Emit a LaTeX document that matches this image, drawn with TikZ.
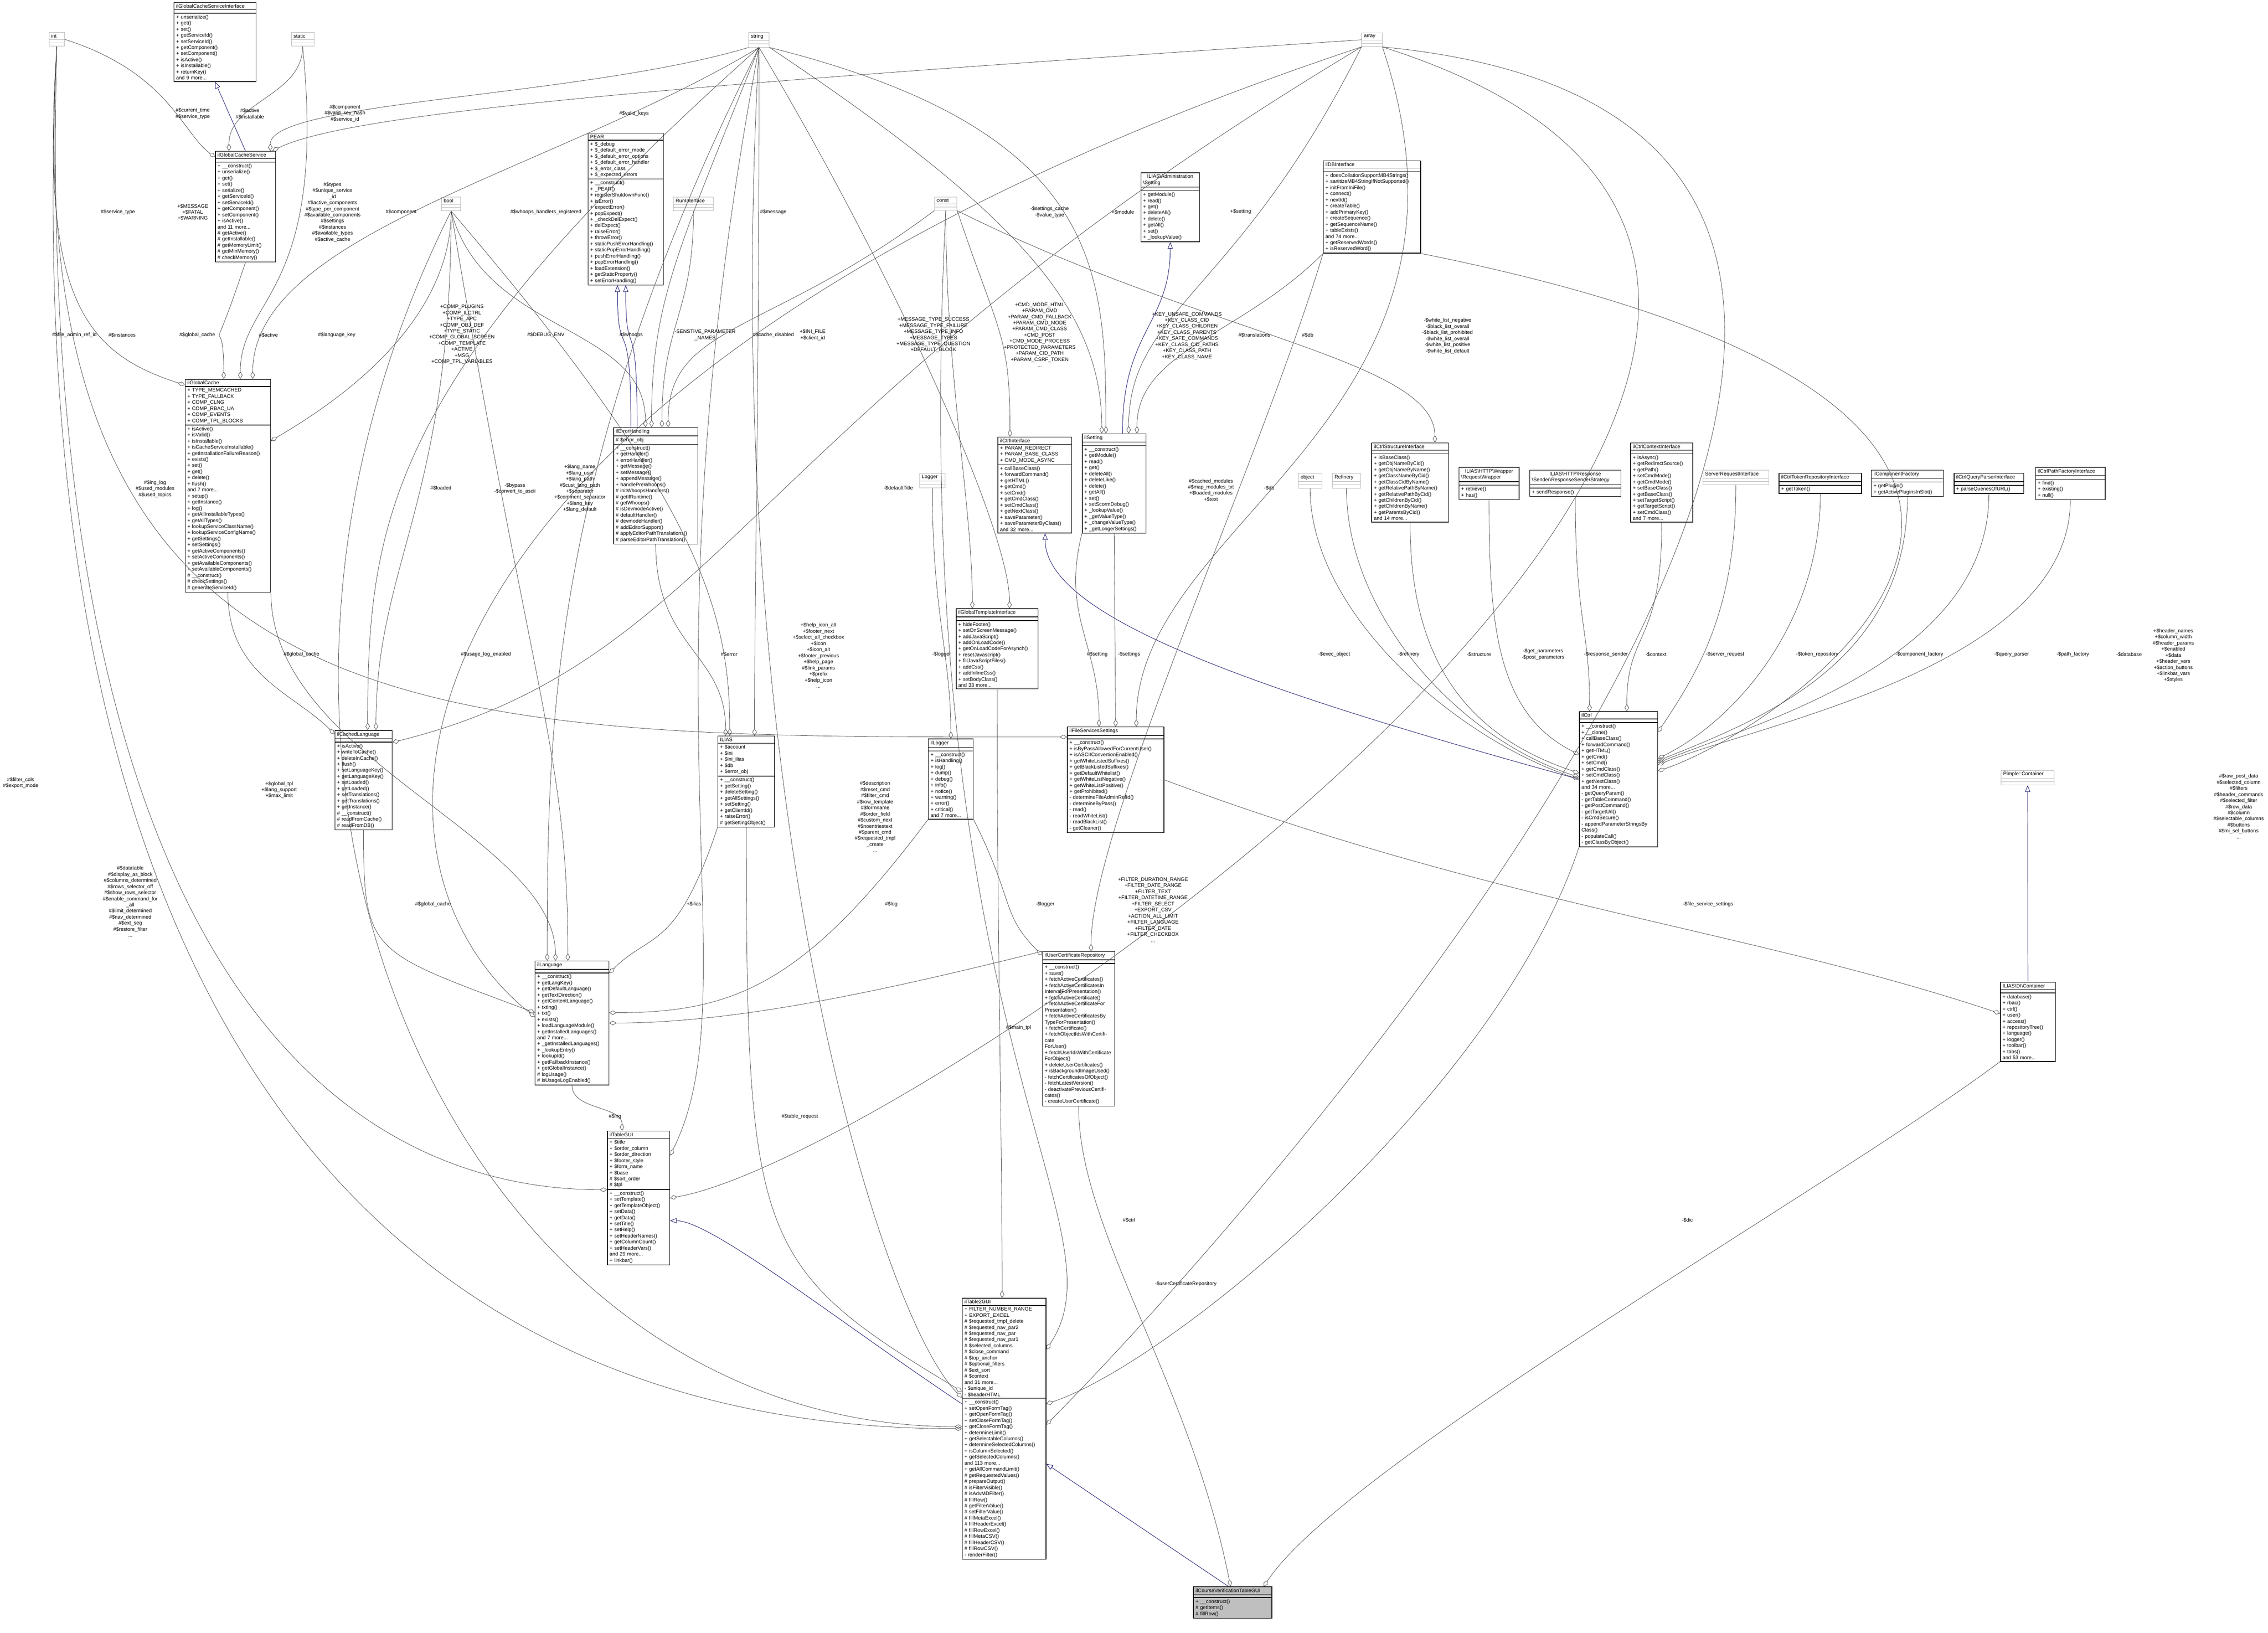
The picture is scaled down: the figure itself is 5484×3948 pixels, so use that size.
\documentclass[tikz,border=0pt]{standalone}
\usepackage{fontspec}
\setmainfont{Liberation Sans}
\usepackage{tikz}
\usetikzlibrary{shapes.multipart, arrows.meta, positioning}

\definecolor{inhblue}{RGB}{25,25,112}
\newcommand{\dgfont}{\fontsize{7}{8.4}\selectfont}

\begin{document}
\begin{tikzpicture}[
        x=0.02cm, y=-0.02cm,
        cls/.style = {
            rectangle split,
            rectangle split parts=3,
            rectangle split empty part height=0.3cm,
            draw, line width=0.9pt,
            anchor=north west,
            inner xsep=3pt, inner ysep=2pt,
            align=left,
            font=\dgfont
        },
        typ/.style = {
            cls,
            draw=gray!55, line width=0.6pt
        },
        lbl/.style = {
            font=\dgfont,
            align=center,
            inner sep=0pt
        },
        agg/.style = {
            draw=black!75, line width=0.5pt,
            -{Diamond[open,length=10pt,width=6pt]}
        },
        inh/.style = {
            draw=inhblue, line width=0.6pt,
            -{Triangle[open,length=9pt,width=7pt]}
        }
    ]
    \useasboundingbox (0,0) rectangle (5484,3948);

    % plain types
    \node [typ, text width=0.54cm] (int)      at (118,78)   {\centering int\nodepart{two}\nodepart{three}};
    \node [typ, text width=0.88cm] (static)   at (704,78)   {\centering static\nodepart{two}\nodepart{three}};
    \node [typ, text width=0.72cm] (bool)     at (1067,476) {\centering bool\nodepart{two}\nodepart{three}};
    \node [typ, text width=0.78cm] (string)   at (1810,78)  {\centering string\nodepart{two}\nodepart{three}};
    \node [typ, text width=0.78cm] (array)    at (3292,79)  {\centering array\nodepart{two}\nodepart{three}};
    \node [typ, text width=1.72cm] (runif)    at (1628,476) {\centering RunInterface\nodepart{two}\nodepart{three}};
    \node [typ, text width=0.88cm] (const)    at (2259,476) {\centering const\nodepart{two}\nodepart{three}};
    \node [typ, text width=1.02cm] (logger)   at (2223,1144) {\centering Logger\nodepart{two}\nodepart{three}};
    \node [typ, text width=0.92cm] (object)   at (3139,1144) {\centering object\nodepart{two}\nodepart{three}};
    \node [typ, text width=1.16cm] (refinery) at (3221,1144) {\centering Refinery\nodepart{two}\nodepart{three}};
    \node [typ, text width=2.98cm] (srvreq)   at (4117,1136) {\centering ServerRequestInterface\nodepart{two}\nodepart{three}};
    \node [typ, text width=2.36cm] (pimple)   at (4838,1862) {\centering Pimple::Container\nodepart{two}\nodepart{three}};

    % classes
    \node [cls, text width=3.76cm] (gcsi) at (420,5) {\centering ilGlobalCacheServiceInterface\nodepart{two}\nodepart{three}
        + unserialize()\\+ get()\\+ set()\\+ getServiceId()\\+ setServiceId()\\+ getComponent()\\+ setComponent()\\+ isActive()\\+ isInstallable()\\+ returnKey()\\and 9 more...};
    \node [cls, text width=2.70cm] (gcs) at (520,365) {\centering ilGlobalCacheService\nodepart{two}\nodepart{three}
        + \_\_construct()\\+ unserialize()\\+ get()\\+ set()\\+ serialize()\\+ getServiceId()\\+ setServiceId()\\+ getComponent()\\+ setComponent()\\+ isActive()\\and 11 more...\\\# getActive()\\\# getInstallable()\\\# getMemoryLimit()\\\# getMinMemory()\\\# checkMemory()};
    \node [cls, text width=3.92cm] (gcache) at (447,916) {\centering ilGlobalCache\nodepart{two}
        + TYPE\_MEMCACHED\\+ TYPE\_FALLBACK\\+ COMP\_CLNG\\+ COMP\_RBAC\_UA\\+ COMP\_EVENTS\\+ COMP\_TPL\_BLOCKS\nodepart{three}
        + isActive()\\+ isValid()\\+ isInstallable()\\+ isCacheServiceInstallable()\\+ getInstallationFailureReason()\\+ exists()\\+ set()\\+ get()\\+ delete()\\+ flush()\\and 7 more...\\+ setup()\\+ getInstance()\\+ log()\\+ getAllInstallableTypes()\\+ getAllTypes()\\+ lookupServiceClassName()\\+ lookupServiceConfigName()\\+ getSettings()\\+ setSettings()\\+ getActiveComponents()\\+ setActiveComponents()\\+ getAvailableComponents()\\+ setAvailableComponents()\\\# \_\_construct()\\\# checkSettings()\\\# generateServiceId()};
    \node [cls, text width=3.44cm] (pear) at (1421,321) {\centering PEAR\nodepart{two}
        + \$\_debug\\+ \$\_default\_error\_mode\\+ \$\_default\_error\_options\\+ \$\_default\_error\_handler\\+ \$\_error\_class\\+ \$\_expected\_errors\nodepart{three}
        + \_\_construct()\\+ \_PEAR()\\+ registerShutdownFunc()\\+ isError()\\+ expectError()\\+ popExpect()\\+ \_checkDelExpect()\\+ delExpect()\\+ raiseError()\\+ throwError()\\+ staticPushErrorHandling()\\+ staticPopErrorHandling()\\+ pushErrorHandling()\\+ popErrorHandling()\\+ loadExtension()\\+ getStaticProperty()\\+ setErrorHandling()};
    \node [cls, text width=3.86cm] (errh) at (1483,1033) {\centering ilErrorHandling\nodepart{two}
        \# \$error\_obj\nodepart{three}
        + \_\_construct()\\+ getHandler()\\+ errorHandler()\\+ getMessage()\\+ setMessage()\\+ appendMessage()\\+ handlePreWhoops()\\\# initWhoopsHandlers()\\\# getIlRuntime()\\\# getWhoops()\\\# isDevmodeActive()\\\# defaultHandler()\\\# devmodeHandler()\\\# addEditorSupport()\\\# applyEditorPathTranslations()\\\# parseEditorPathTranslation()};
    \node [cls, text width=2.62cm] (admset) at (2758,417) {\centering ILIAS\textbackslash Administration\\\textbackslash Setting\nodepart{two}\nodepart{three}
        + getModule()\\+ read()\\+ get()\\+ deleteAll()\\+ delete()\\+ getAll()\\+ set()\\+ \_lookupValue()};
    \node [cls, text width=4.50cm] (dbif) at (3199,388) {\centering ilDBInterface\nodepart{two}\nodepart{three}
        + doesCollationSupportMB4Strings()\\+ sanitizeMB4StringIfNotSupported()\\+ initFromIniFile()\\+ connect()\\+ nextId()\\+ createTable()\\+ addPrimaryKey()\\+ createSequence()\\+ getSequenceName()\\+ tableExists()\\and 74 more...\\+ getReservedWords()\\+ isReservedWord()};
    \node [cls, text width=3.36cm] (ctrlif) at (2412,1056) {\centering ilCtrlInterface\nodepart{two}
        + PARAM\_REDIRECT\\+ PARAM\_BASE\_CLASS\\+ CMD\_MODE\_ASYNC\nodepart{three}
        + callBaseClass()\\+ forwardCommand()\\+ getHTML()\\+ getCmd()\\+ setCmd()\\+ getCmdClass()\\+ setCmdClass()\\+ getNextClass()\\+ saveParameter()\\+ saveParameterByClass()\\and 32 more...};
    \node [cls, text width=2.88cm] (setting) at (2616,1048) {\centering ilSetting\nodepart{two}\nodepart{three}
        + \_\_construct()\\+ getModule()\\+ read()\\+ get()\\+ deleteAll()\\+ deleteLike()\\+ delete()\\+ getAll()\\+ set()\\+ setScormDebug()\\+ \_lookupValue()\\+ \_getValueType()\\+ \_changeValueType()\\+ \_getLongerSettings()};
    \node [cls, text width=3.50cm] (ctrlstruct) at (3316,1070) {\centering ilCtrlStructureInterface\nodepart{two}\nodepart{three}
        + isBaseClass()\\+ getObjNameByCid()\\+ getObjNameByName()\\+ getClassNameByCid()\\+ getClassCidByName()\\+ getRelativePathByName()\\+ getRelativePathByCid()\\+ getChildrenByCid()\\+ getChildrenByName()\\+ getParentsByCid()\\and 14 more...};
    \node [cls, text width=2.70cm] (reqwrap) at (3527,1129) {\centering ILIAS\textbackslash HTTP\textbackslash Wrapper\\\textbackslash RequestWrapper\nodepart{two}\nodepart{three}
        + retrieve()\\+ has()};
    \node [cls, text width=4.20cm] (respsend) at (3698,1136) {\centering ILIAS\textbackslash HTTP\textbackslash Response\\\textbackslash Sender\textbackslash ResponseSenderStrategy\nodepart{two}\nodepart{three}
        + sendResponse()};
    \node [cls, text width=2.80cm] (ctrlctx) at (3942,1070) {\centering ilCtrlContextInterface\nodepart{two}\nodepart{three}
        + isAsync()\\+ getRedirectSource()\\+ getPath()\\+ setCmdMode()\\+ getCmdMode()\\+ setBaseClass()\\+ getBaseClass()\\+ setTargetScript()\\+ getTargetScript()\\+ setCmdClass()\\and 7 more...};
    \node [cls, text width=3.78cm] (tokenrepo) at (4301,1144) {\centering ilCtrlTokenRepositoryInterface\nodepart{two}\nodepart{three}
        + getToken()};
    \node [cls, text width=3.28cm] (compfac) at (4524,1136) {\centering ilComponentFactory\nodepart{two}\nodepart{three}
        + getPlugin()\\+ getActivePluginsInSlot()};
    \node [cls, text width=3.16cm] (queryparser) at (4724,1144) {\centering ilCtrlQueryParserInterface\nodepart{two}\nodepart{three}
        + parseQueriesOfURL()};
    \node [cls, text width=3.16cm] (pathfac) at (4921,1129) {\centering ilCtrlPathFactoryInterface\nodepart{two}\nodepart{three}
        + find()\\+ existing()\\+ null()};
    \node [cls, text width=3.58cm] (ctrl) at (3818,1720) {\centering ilCtrl\nodepart{two}\nodepart{three}
        + \_\_construct()\\+ \_\_clone()\\+ callBaseClass()\\+ forwardCommand()\\+ getHTML()\\+ getCmd()\\+ setCmd()\\+ getCmdClass()\\+ setCmdClass()\\+ getNextClass()\\and 34 more...\\- getQueryParam()\\- getTableCommand()\\- getPostCommand()\\- getTargetUrl()\\- isCmdSecure()\\- appendParameterStringsBy\\Class()\\- populateCall()\\- getClassByObject()};
    \node [cls, text width=2.46cm] (dic) at (4836,2374) {\centering ILIAS\textbackslash DI\textbackslash Container\nodepart{two}\nodepart{three}
        + database()\\+ rbac()\\+ ctrl()\\+ user()\\+ access()\\+ repositoryTree()\\+ language()\\+ logger()\\+ toolbar()\\+ tabs()\\and 53 more...};
    \node [cls, text width=3.76cm] (tplif) at (2311,1471) {\centering ilGlobalTemplateInterface\nodepart{two}\nodepart{three}
        + hideFooter()\\+ setOnScreenMessage()\\+ addJavaScript()\\+ addOnLoadCode()\\+ getOnLoadCodeForAsynch()\\+ resetJavascript()\\+ fillJavaScriptFiles()\\+ addCss()\\+ addInlineCss()\\+ setBodyClass()\\and 33 more...};
    \node [cls, text width=2.54cm] (ilias) at (1735,1779) {\centering ILIAS\nodepart{two}
        + \$account\\+ \$ini\\+ \$ini\_ilias\\+ \$db\\+ \$error\_obj\nodepart{three}
        + \_\_construct()\\+ getSetting()\\+ deleteSetting()\\+ getAllSettings()\\+ setSetting()\\+ getClientId()\\+ raiseError()\\\# getSettingObject()};
    \node [cls, text width=1.96cm] (illogger) at (2244,1786) {\centering ilLogger\nodepart{two}\nodepart{three}
        + \_\_construct()\\+ isHandling()\\+ log()\\+ dump()\\+ debug()\\+ info()\\+ notice()\\+ warning()\\+ error()\\+ critical()\\and 7 more...};
    \node [cls, text width=4.46cm] (filesrv) at (2580,1757) {\centering ilFileServicesSettings\nodepart{two}\nodepart{three}
        + \_\_construct()\\+ isByPassAllowedForCurrentUser()\\+ isASCIIConvertionEnabled()\\+ getWhiteListedSuffixes()\\+ getBlackListedSuffixes()\\+ getDefaultWhitelist()\\+ getWhiteListNegative()\\+ getWhiteListPositive()\\+ getProhibited()\\- determineFileAdminRefId()\\- determineByPass()\\- read()\\- readWhiteList()\\- readBlackList()\\- getCleaner()};
    \node [cls, text width=2.56cm] (cachedlng) at (809,1765) {\centering ilCachedLanguage\nodepart{two}\nodepart{three}
        + isActive()\\+ writeToCache()\\+ deleteInCache()\\+ flush()\\+ setLanguageKey()\\+ getLanguageKey()\\+ setLoaded()\\+ getLoaded()\\+ setTranslations()\\+ getTranslations()\\+ getInstance()\\\# \_\_construct()\\\# readFromCache()\\\# readFromDB()};
    \node [cls, text width=3.36cm] (lng) at (1293,2323) {\centering ilLanguage\nodepart{two}\nodepart{three}
        + \_\_construct()\\+ getLangKey()\\+ getDefaultLanguage()\\+ getTextDirection()\\+ getContentLanguage()\\+ txtlng()\\+ txt()\\+ exists()\\+ loadLanguageModule()\\+ getInstalledLanguages()\\and 7 more...\\+ \_getInstalledLanguages()\\+ \_lookupEntry()\\+ lookupId()\\+ getFallbackInstance()\\+ getGlobalInstance()\\\# logUsage()\\\# isUsageLogEnabled()};
    \node [cls, text width=2.80cm] (tablegui) at (1468,2734) {\centering ilTableGUI\nodepart{two}
        + \$title\\+ \$order\_column\\+ \$order\_direction\\+ \$footer\_style\\+ \$form\_name\\+ \$base\\\# \$sort\_order\\\# \$tpl\nodepart{three}
        + \_\_construct()\\+ setTemplate()\\+ getTemplateObject()\\+ setData()\\+ getData()\\+ setTitle()\\+ setHelp()\\+ setHeaderNames()\\+ getColumnCount()\\+ setHeaderVars()\\and 29 more...\\+ linkbar()};
    \node [cls, text width=3.28cm] (certrepo) at (2520,2300) {\centering ilUserCertificateRepository\nodepart{two}\nodepart{three}
        + \_\_construct()\\+ save()\\+ fetchActiveCertificates()\\+ fetchActiveCertificatesIn\\IntervalForPresentation()\\+ fetchActiveCertificate()\\+ fetchActiveCertificateFor\\Presentation()\\+ fetchActiveCertificatesBy\\TypeForPresentation()\\+ fetchCertificate()\\+ fetchObjectIdsWithCertificate\\ForUser()\\+ fetchUserIdsWithCertificate\\ForObject()\\+ deleteUserCertificates()\\+ isBackgroundImageUsed()\\- fetchCertificatesOfObject()\\- fetchLatestVersion()\\- deactivatePreviousCertificates()\\- createUserCertificate()};
    \node [cls, text width=3.84cm] (table2gui) at (2326,3138) {\centering ilTable2GUI\nodepart{two}
        + FILTER\_NUMBER\_RANGE\\+ EXPORT\_EXCEL\\\# \$requested\_tmpl\_delete\\\# \$requested\_nav\_par2\\\# \$requested\_nav\_par\\\# \$requested\_nav\_par1\\\# \$selected\_columns\\\# \$close\_command\\\# \$top\_anchor\\\# \$optional\_filters\\\# \$ext\_sort\\\# \$context\\and 31 more...\\- \$unique\_id\\- \$headerHTML\nodepart{three}
        + \_\_construct()\\+ setOpenFormTag()\\+ getOpenFormTag()\\+ setCloseFormTag()\\+ getCloseFormTag()\\+ determineLimit()\\+ getSelectableColumns()\\+ determineSelectedColumns()\\+ isColumnSelected()\\+ getSelectedColumns()\\and 113 more...\\+ getAllCommandLimit()\\\# getRequestedValues()\\\# prepareOutput()\\\# isFilterVisible()\\\# isAdvMDFilter()\\\# fillRow()\\\# getFilterValue()\\\# setFilterValue()\\\# fillMetaExcel()\\\# fillHeaderExcel()\\\# fillRowExcel()\\\# fillMetaCSV()\\\# fillHeaderCSV()\\\# fillRowCSV()\\- renderFilter()};
    \node [cls, text width=3.58cm, rectangle split part fill={gray!50}] (cvtable) at (2885,3836) {\centering ilCourseVerificationTableGUI\nodepart{two}\nodepart{three}
        + \_\_construct()\\\# getItems()\\\# fillRow()};

    % inheritance
    \draw [inh] (gcs.north) -- (gcsi.south);
    \draw [inh] ([xshift=-1.2cm]errh.north) .. controls +(0,-300) and +(0,200) .. ([xshift=-0.4cm]pear.south);
    \draw [inh] ([xshift=-0.9cm]errh.north) .. controls +(0,-300) and +(0,200) .. ([xshift=0cm]pear.south);
    \draw [inh] ([xshift=0.4cm]setting.north) .. controls +(0,-250) and +(0,200) .. (admset.south);
    \draw [inh] (ctrl.west) .. controls +(-800,-220) and +(0,200) .. ([xshift=0.5cm]ctrlif.south);
    \draw [inh] ([yshift=1.2cm]table2gui.west) .. controls +(-300,-200) and +(100,0) .. ([yshift=-1.1cm]tablegui.east);
    \draw [inh] ([xshift=-0.2cm]cvtable.north) -- ([yshift=-1.7cm]table2gui.east);
    \draw [inh] (dic.north) -- (pimple.south);

    % aggregations around the cache
    \draw [agg] (int.east) .. controls +(250,80) and +(-80,-60) .. ([yshift=-0.3cm]gcs.north west);
    \draw [agg] (static.south) .. controls +(0,120) and +(0,-120) .. ([xshift=-0.8cm]gcs.north);
    \draw [agg] (string.south west) .. controls +(-400,120) and +(0,-120) .. ([xshift=1.2cm]gcs.north);
    \draw [agg] (int.south) .. controls +(-40,600) and +(-250,-80) .. ([yshift=-0.3cm]gcache.north west);
    \draw [agg] (static.south) .. controls +(60,600) and +(0,-200) .. ([xshift=0.6cm]gcache.north);
    \draw [agg] (string.south) .. controls +(-500,300) and +(0,-350) .. ([xshift=1.2cm]gcache.north);
    \draw [agg] (bool.south) .. controls +(0,300) and +(100,-60) .. ([yshift=-3cm]gcache.north east);
    \draw [agg] (gcs.south) .. controls +(-100,300) and +(0,-200) .. ([xshift=-0.2cm]gcache.north);
    \draw [agg] (int.south) .. controls +(-100,1700) and +(-1500,0) .. ([yshift=-0.5cm]filesrv.north west);
    \draw [agg] (int.south) .. controls +(-120,2600) and +(-1200,0) .. (table2gui.west);
    \draw [agg] (int.south) .. controls +(-60,2300) and +(-600,0) .. ([yshift=0.4cm]tablegui.west);
    \draw [agg] (bool.south) .. controls +(-700,1400) and +(-1200,0) .. ([yshift=0.1cm]table2gui.west);

    % aggregations around error handling and ILIAS
    \draw [agg] (bool.south) .. controls +(80,300) and +(0,-250) .. ([xshift=-0.5cm]errh.north);
    \draw [agg] (string.south) .. controls +(-200,500) and +(0,-300) .. ([xshift=-0.2cm]errh.north);
    \draw [agg] (runif.south) .. controls +(0,250) and +(0,-250) .. ([xshift=0.3cm]errh.north);
    \draw [agg] (const.south west) .. controls +(-400,300) and +(0,-250) .. ([xshift=0.6cm]errh.north);
    \draw [agg] (bool.south) .. controls +(600,700) and +(0,-300) .. ([xshift=-0.8cm]ilias.north);
    \draw [agg] (string.south) .. controls +(0,900) and +(0,-400) .. ([xshift=0.4cm]ilias.north);
    \draw [agg] (errh.south) .. controls +(0,250) and +(0,-200) .. ([xshift=-1cm]ilias.north);

    % aggregations around the languages
    \draw [agg] (bool.south) .. controls +(0,700) and +(0,-400) .. ([xshift=0.6cm]cachedlng.north);
    \draw [agg] (string.south) .. controls +(-900,800) and +(0,-500) .. ([xshift=0.2cm]cachedlng.north);
    \draw [agg] (array.south west) .. controls +(-1500,900) and +(800,-200) .. ([yshift=-0.6cm]cachedlng.north east);
    \draw [agg] (gcache.south) .. controls +(0,200) and +(-100,-100) .. ([yshift=-0.2cm]cachedlng.north west);
    \draw [agg] (gcache.south east) .. controls +(0,400) and +(0,-300) .. ([xshift=-0.8cm]lng.north);
    \draw [agg] (string.south) .. controls +(-500,1000) and +(0,-600) .. ([xshift=-1.2cm]lng.north);
    \draw [agg] (bool.south) .. controls +(200,1200) and +(0,-500) .. ([xshift=-0.2cm]lng.north);
    \draw [agg] (cachedlng.south) .. controls +(0,300) and +(-400,-150) .. ([yshift=0.5cm]lng.west);
    \draw [agg] (array.south west) .. controls +(-2400,800) and +(-500,-400) .. ([yshift=0.3cm]lng.west);
    \draw [agg] (ilias.south west) .. controls +(-100,300) and +(100,-100) .. ([yshift=-0.6cm]lng.north east);
    \draw [agg] (illogger.south west) .. controls +(-300,400) and +(300,0) .. ([yshift=0.5cm]lng.east);
    \draw [agg] (certrepo.north west) .. controls +(-400,100) and +(300,0) .. (lng.east);

    % aggregations around the logger, settings and certificates
    \draw [agg] (logger.south) .. controls +(0,300) and +(0,-200) .. (illogger.north);
    \draw [agg] (illogger.south east) .. controls +(100,200) and +(-100,-100) .. ([yshift=-0.2cm]certrepo.north west);
    \draw [agg] (dbif.south west) .. controls +(-150,500) and +(0,-300) .. ([xshift=0.6cm]certrepo.north);
    \draw [agg] (dbif.south west) .. controls +(-200,200) and +(0,-200) .. ([xshift=1.1cm]setting.north);
    \draw [agg] (array.south west) .. controls +(-300,600) and +(0,-300) .. ([xshift=0.7cm]setting.north);
    \draw [agg] (string.south east) .. controls +(600,400) and +(0,-300) .. ([xshift=-0.6cm]setting.north);
    \draw [agg] (string.south east) .. controls +(800,200) and +(0,-400) .. ([xshift=-0.4cm]setting.north);
    \draw [agg] (const.south) .. controls +(0,400) and +(0,-250) .. ([xshift=-1.2cm]tplif.north);
    \draw [agg] (const.south east) .. controls +(100,300) and +(0,-250) .. ([xshift=-1.2cm]ctrlif.north);
    \draw [agg] (const.south east) .. controls +(600,300) and +(0,-200) .. ([xshift=1.2cm]ctrlstruct.north);
    \draw [agg] (setting.south) -- (filesrv.north);
    \draw [agg] (setting.south west) .. controls +(-50,200) and +(0,-200) .. ([xshift=-0.8cm]filesrv.north);
    \draw [agg] (array.south east) .. controls +(300,900) and +(0,-500) .. ([xshift=1cm]filesrv.north);
    \draw [agg] (filesrv.east) .. controls +(800,300) and +(-600,-200) .. ([yshift=0.4cm]dic.west);

    % aggregations of ilCtrl
    \draw [agg] (object.south) .. controls +(0,300) and +(-300,-100) .. (ctrl.west);
    \draw [agg] (refinery.south) .. controls +(0,300) and +(-300,-100) .. ([yshift=0.1cm]ctrl.west);
    \draw [agg] (ctrlstruct.south) .. controls +(0,300) and +(-300,-100) .. ([yshift=0.3cm]ctrl.west);
    \draw [agg] (reqwrap.south) .. controls +(0,300) and +(-200,-100) .. ([yshift=1.2cm]ctrl.west);
    \draw [agg] (respsend.south) .. controls +(0,300) and +(0,-200) .. ([xshift=-1.4cm]ctrl.north);
    \draw [agg] (ctrlctx.south) .. controls +(0,300) and +(0,-200) .. ([xshift=0.4cm]ctrl.north);
    \draw [agg] (srvreq.south) .. controls +(0,300) and +(100,-150) .. ([yshift=-1cm]ctrl.north east);
    \draw [agg] (tokenrepo.south) .. controls +(0,300) and +(200,-100) .. ([yshift=1cm]ctrl.east);
    \draw [agg] (compfac.south) .. controls +(0,400) and +(250,-100) .. ([yshift=0.9cm]ctrl.east);
    \draw [agg] (queryparser.south) .. controls +(0,400) and +(250,-100) .. ([yshift=0.8cm]ctrl.east);
    \draw [agg] (pathfac.south) .. controls +(0,400) and +(250,-100) .. ([yshift=0.7cm]ctrl.east);
    \draw [agg] (dbif.south east) .. controls +(2000,400) and +(300,-100) .. ([yshift=0.4cm]ctrl.east);

    % aggregations of the tables
    \draw [agg] (array.south east) .. controls +(1900,600) and +(600,-100) .. (tablegui.east);
    \draw [agg] (array.south east) .. controls +(2100,200) and +(400,-400) .. ([yshift=0.2cm]table2gui.east);
    \draw [agg] (tplif.south) .. controls +(0,600) and +(0,-400) .. ([xshift=-0.1cm]table2gui.north);
    \draw [agg] (lng.south) .. controls +(0,60) and +(0,-60) .. ([xshift=-0.8cm]tablegui.north);
    \draw [agg] (string.south) .. controls +(-300,1600) and +(200,-400) .. ([yshift=-1.2cm]tablegui.north east);
    \draw [agg] (string.south) .. controls +(-100,1800) and +(-200,-200) .. ([yshift=1.5cm]table2gui.west);
    \draw [agg] (const.south) .. controls +(-100,2000) and +(200,-300) .. ([yshift=-2.5cm]table2gui.north east);
    \draw [agg] (ilias.south) .. controls +(0,1000) and +(-500,-300) .. ([yshift=1.8cm]table2gui.west);
    \draw [agg] (ctrl.south west) .. controls +(-200,600) and +(300,-100) .. ([yshift=1.2cm]table2gui.east);
    \draw [agg] (certrepo.south) .. controls +(0,300) and +(-100,-500) .. ([xshift=-0.1cm]cvtable.north);
    \draw [agg] (dic.south west) .. controls +(-400,300) and +(200,-300) .. ([xshift=1.5cm]cvtable.north);
    \draw [agg] (string.south) .. controls +(300,500) and +(0,-200) .. ([xshift=0.6cm]tplif.north);
    \draw [agg] (array.west) .. controls +(-1500,100) and +(200,-100) .. ([xshift=1.3cm]gcs.north);

    % edge labels
    \node [lbl] (l1)  at (466,275)  {\#\$current\_time\\\#\$service\_type};
    \node [lbl] (l2)  at (604,275)  {\#\$active\\\#\$installable};
    \node [lbl] (l3)  at (834,274)  {\#\$component\\\#\$valid\_key\_hash\\\#\$service\_id};
    \node [lbl] (l4)  at (1533,275) {\#\$valid\_keys};
    \node [lbl] (l5)  at (285,513)  {\#\$service\_type};
    \node [lbl] (l6)  at (466,513)  {+\$MESSAGE\\+\$FATAL\\+\$WARNING};
    \node [lbl] (l7)  at (804,513)  {\#\$types\\\#\$unique\_service\\\_id\\\#\$active\_components\\\#\$type\_per\_component\\\#\$available\_components\\\#\$settings\\\#\$instances\\\#\$available\_types\\\#\$active\_cache};
    \node [lbl] (l8)  at (970,513)  {\#\$component};
    \node [lbl] (l9)  at (1320,513) {\#\$whoops\_handlers\_registered};
    \node [lbl] (l10) at (1870,513) {\#\$message};
    \node [lbl] (l11) at (2538,513) {-\$settings\_cache\\-\$value\_type};
    \node [lbl] (l12) at (2715,513) {+\$module};
    \node [lbl] (l13) at (3000,512) {+\$setting};
    \node [lbl] (l14) at (180,810)  {\#\$file\_admin\_ref\_id};
    \node [lbl] (l15) at (295,810)  {\#\$instances};
    \node [lbl] (l16) at (477,810)  {\#\$global\_cache};
    \node [lbl] (l17) at (649,810)  {\#\$active};
    \node [lbl] (l18) at (814,810)  {\#\$language\_key};
    \node [lbl] (l19) at (1117,815) {+COMP\_PLUGINS\\+COMP\_ILCTRL\\+TYPE\_APC\\+COMP\_OBJ\_DEF\\+TYPE\_STATIC\\+COMP\_GLOBAL\_SCREEN\\+COMP\_TEMPLATE\\+ACTIVE\\+MSG\\+COMP\_TPL\_VARIABLES\\...};
    \node [lbl] (l20) at (1320,810) {\#\$DEBUG\_ENV};
    \node [lbl] (l21) at (1526,810) {\#\$whoops};
    \node [lbl] (l22) at (1705,810) {-SENSTIVE\_PARAMETER\\\_NAMES};
    \node [lbl] (l23) at (1870,810) {\#\$cache\_disabled};
    \node [lbl] (l24) at (1965,810) {+\$INI\_FILE\\+\$client\_id};
    \node [lbl] (l25) at (2257,810) {+MESSAGE\_TYPE\_SUCCESS\\+MESSAGE\_TYPE\_FAILURE\\+MESSAGE\_TYPE\_INFO\\+MESSAGE\_TYPES\\+MESSAGE\_TYPE\_QUESTION\\+DEFAULT\_BLOCK};
    \node [lbl] (l26) at (2514,810) {+CMD\_MODE\_HTML\\+PARAM\_CMD\\+PARAM\_CMD\_FALLBACK\\+PARAM\_CMD\_MODE\\+PARAM\_CMD\_CLASS\\+CMD\_POST\\+CMD\_MODE\_PROCESS\\+PROTECTED\_PARAMETERS\\+PARAM\_CID\_PATH\\+PARAM\_CSRF\_TOKEN\\...};
    \node [lbl] (l27) at (2870,812) {+KEY\_UNSAFE\_COMMANDS\\+KEY\_CLASS\_CID\\+KEY\_CLASS\_CHILDREN\\+KEY\_CLASS\_PARENTS\\+KEY\_SAFE\_COMMANDS\\+KEY\_CLASS\_CID\_PATHS\\+KEY\_CLASS\_PATH\\+KEY\_CLASS\_NAME};
    \node [lbl] (l28) at (3033,810) {\#\$translations};
    \node [lbl] (l29) at (3162,810) {\#\$db};
    \node [lbl] (l30) at (3500,812) {-\$white\_list\_negative\\-\$black\_list\_overall\\-\$black\_list\_prohibited\\-\$white\_list\_overall\\-\$white\_list\_positive\\-\$white\_list\_default};
    \node [lbl] (l31) at (375,1182) {\#\$lng\_log\\\#\$used\_modules\\\#\$used\_topics};
    \node [lbl] (l32) at (1066,1180) {\#\$loaded};
    \node [lbl] (l33) at (1245,1181) {-\$bypass\\-\$convert\_to\_ascii};
    \node [lbl] (l34) at (1402,1181) {+\$lang\_name\\+\$lang\_user\\+\$lang\_path\\\#\$cust\_lang\_path\\+\$separator\\+\$comment\_separator\\+\$lang\_key\\+\$lang\_default};
    \node [lbl] (l35) at (2172,1180) {-\$defaultTitle};
    \node [lbl] (l36) at (2928,1185) {\#\$cached\_modules\\\#\$map\_modules\_txt\\+\$loaded\_modules\\+\$text};
    \node [lbl] (l37) at (3069,1180) {-\$db};
    \node [lbl] (l38) at (729,1582) {\#\$global\_cache};
    \node [lbl] (l39) at (1175,1582) {\#\$usage\_log\_enabled};
    \node [lbl] (l40) at (1763,1582) {\#\$error};
    \node [lbl] (l41) at (1979,1585) {+\$help\_icon\_alt\\+\$footer\_next\\+\$select\_all\_checkbox\\+\$icon\\+\$icon\_alt\\+\$footer\_previous\\+\$help\_page\\\#\$link\_params\\+\$prefix\\+\$help\_icon\\...};
    \node [lbl] (l42) at (2277,1582) {-\$logger};
    \node [lbl] (l43) at (2653,1582) {\#\$setting};
    \node [lbl] (l44) at (2730,1582) {-\$settings};
    \node [lbl] (l45) at (3226,1582) {-\$exec\_object};
    \node [lbl] (l46) at (3406,1582) {-\$refinery};
    \node [lbl] (l47) at (3576,1582) {-\$structure};
    \node [lbl] (l48) at (3731,1582) {-\$get\_parameters\\-\$post\_parameters};
    \node [lbl] (l49) at (3883,1582) {-\$response\_sender};
    \node [lbl] (l50) at (4004,1582) {-\$context};
    \node [lbl] (l51) at (4171,1582) {-\$server\_request};
    \node [lbl] (l52) at (4394,1582) {-\$token\_repository};
    \node [lbl] (l53) at (4641,1582) {-\$component\_factory};
    \node [lbl] (l54) at (4864,1582) {-\$query\_parser};
    \node [lbl] (l55) at (5012,1582) {-\$path\_factory};
    \node [lbl] (l56) at (5148,1582) {-\$database};
    \node [lbl] (l57) at (5255,1585) {+\$header\_names\\+\$column\_width\\\#\$header\_params\\+\$enabled\\+\$data\\+\$header\_vars\\+\$action\_buttons\\+\$linkbar\_vars\\+\$styles};
    \node [lbl] (l58) at (50,1893)  {\#\$filter\_cols\\\#\$export\_mode};
    \node [lbl] (l59) at (675,1910) {+\$global\_tpl\\+\$lang\_support\\+\$max\_limit};
    \node [lbl] (l60) at (2116,1975) {\#\$description\\\#\$reset\_cmd\\\#\$filter\_cmd\\\#\$row\_template\\\#\$formname\\\#\$order\_field\\\#\$custom\_next\\\#\$noentriestext\\\#\$parent\_cmd\\\#\$requested\_tmpl\\\_create\\...};
    \node [lbl] (l61) at (5413,1950) {\#\$raw\_post\_data\\\#\$selected\_column\\\#\$filters\\\#\$header\_commands\\\#\$selected\_filter\\\#\$row\_data\\\#\$column\\\#\$selectable\_columns\\\#\$buttons\\\#\$mi\_sel\_buttons\\...};
    \node [lbl] (l62) at (315,2180) {\#\$datatable\\\#\$display\_as\_block\\\#\$columns\_determined\\\#\$rows\_selector\_off\\\#\$show\_rows\_selector\\\#\$enable\_command\_for\\\_all\\\#\$limit\_determined\\\#\$nav\_determined\\\#\$ext\_seg\\\#\$restore\_filter\\...};
    \node [lbl] (l63) at (1047,2187) {\#\$global\_cache};
    \node [lbl] (l64) at (1678,2186) {+\$ilias};
    \node [lbl] (l65) at (2155,2186) {\#\$log};
    \node [lbl] (l66) at (2527,2186) {-\$logger};
    \node [lbl] (l67) at (2788,2200) {+FILTER\_DURATION\_RANGE\\+FILTER\_DATE\_RANGE\\+FILTER\_TEXT\\+FILTER\_DATETIME\_RANGE\\+FILTER\_SELECT\\+EXPORT\_CSV\\+ACTION\_ALL\_LIMIT\\+FILTER\_LANGUAGE\\+FILTER\_DATE\\+FILTER\_CHECKBOX\\...};
    \node [lbl] (l68) at (4130,2187) {-\$file\_service\_settings};
    \node [lbl] (l69) at (2463,2485) {\#\$main\_tpl};
    \node [lbl] (l70) at (1487,2700) {\#\$lng};
    \node [lbl] (l71) at (1934,2700) {\#\$table\_request};
    \node [lbl] (l72) at (2730,2950) {\#\$ctrl};
    \node [lbl] (l73) at (4080,2950) {-\$dic};
    \node [lbl] (l74) at (2867,3104) {-\$userCertificateRepository};
\end{tikzpicture}
\end{document}
